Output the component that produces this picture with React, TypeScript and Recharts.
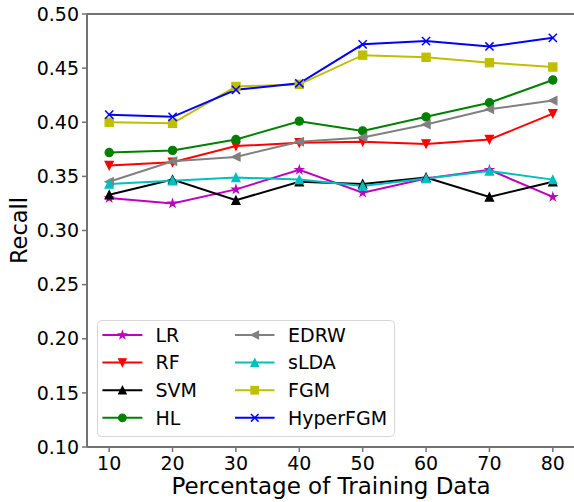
import React from 'react';
import { LineChart, Line, XAxis, YAxis, Legend, ReferenceLine, Label } from 'recharts';

const xValues = [10, 20, 30, 40, 50, 60, 70, 80];
const yTicks = [0.1, 0.15, 0.2, 0.25, 0.3, 0.35, 0.4, 0.45, 0.5];

const LR = [0.330, 0.325, 0.338, 0.356, 0.335, 0.348, 0.356, 0.331];
const RF = [0.360, 0.363, 0.378, 0.381, 0.382, 0.380, 0.384, 0.408];
const SVM = [0.333, 0.347, 0.328, 0.345, 0.343, 0.349, 0.331, 0.345];
const HL = [0.372, 0.374, 0.384, 0.401, 0.392, 0.405, 0.418, 0.439];
const EDRW = [0.345, 0.364, 0.368, 0.382, 0.386, 0.398, 0.412, 0.420];
const sLDA = [0.343, 0.346, 0.349, 0.347, 0.341, 0.348, 0.355, 0.347];
const FGM = [0.400, 0.399, 0.433, 0.435, 0.462, 0.460, 0.455, 0.451];
const HyperFGM = [0.407, 0.405, 0.430, 0.436, 0.472, 0.475, 0.470, 0.478];

type MarkerType = 'star' | 'down' | 'up' | 'circle' | 'left' | 'square' | 'x';

const series: { name: string; values: number[]; color: string; marker: MarkerType }[] = [
  { name: 'LR', values: LR, color: '#bf00bf', marker: 'star' },
  { name: 'RF', values: RF, color: '#ff0000', marker: 'down' },
  { name: 'SVM', values: SVM, color: '#000000', marker: 'up' },
  { name: 'HL', values: HL, color: '#008000', marker: 'circle' },
  { name: 'EDRW', values: EDRW, color: '#808080', marker: 'left' },
  { name: 'sLDA', values: sLDA, color: '#00bfbf', marker: 'up' },
  { name: 'FGM', values: FGM, color: '#bfbf00', marker: 'square' },
  { name: 'HyperFGM', values: HyperFGM, color: '#0000ff', marker: 'x' },
];

const data = xValues.map((x, i) => {
  const row: Record<string, number> = { x };
  series.forEach((s) => {
    row[s.name] = s.values[i];
  });
  return row;
});

const FONT = 'DejaVu Sans, sans-serif';
const AXIS_COLOR = '#737373';

function markerShape(type: MarkerType, cx: number, cy: number, color: string, key?: string, s = 8.2) {
  const h = s / 2;
  const common = { fill: color, stroke: color, strokeWidth: 1.2, strokeLinejoin: 'miter' as const };
  switch (type) {
    case 'circle':
      return <circle key={key} cx={cx} cy={cy} r={h} {...common} />;
    case 'square':
      return <rect key={key} x={cx - h} y={cy - h} width={s} height={s} {...common} />;
    case 'up':
      return <polygon key={key} points={`${cx},${cy - h} ${cx - h},${cy + h} ${cx + h},${cy + h}`} {...common} />;
    case 'down':
      return <polygon key={key} points={`${cx},${cy + h} ${cx - h},${cy - h} ${cx + h},${cy - h}`} {...common} />;
    case 'left':
      return <polygon key={key} points={`${cx - h},${cy} ${cx + h},${cy - h} ${cx + h},${cy + h}`} {...common} />;
    case 'x':
      return (
        <g key={key} stroke={color} strokeWidth={1.5}>
          <line x1={cx - h} y1={cy - h} x2={cx + h} y2={cy + h} />
          <line x1={cx - h} y1={cy + h} x2={cx + h} y2={cy - h} />
        </g>
      );
    case 'star': {
      const pts: string[] = [];
      const R = h;
      const r = h * 0.382;
      for (let k = 0; k < 10; k++) {
        const ang = -Math.PI / 2 + (k * Math.PI) / 5;
        const rad = k % 2 === 0 ? R : r;
        pts.push(`${cx + rad * Math.cos(ang)},${cy + rad * Math.sin(ang)}`);
      }
      return <polygon key={key} points={pts.join(' ')} {...common} />;
    }
  }
  return null;
}

const makeDot = (name: string, type: MarkerType, color: string) => (props: any) => {
  const { cx, cy, index } = props;
  if (cx == null || cy == null) return <g key={`${name}-${index}`} />;
  return markerShape(type, cx, cy, color, `${name}-${index}`);
};

const LegendContent = () => {
  const rowY = [15, 42.6, 70.2, 97.8];
  const cols = [
    { lineX1: 5.4, lineX2: 45.4, text: 58.5 },
    { lineX1: 138, lineX2: 177.5, text: 191 },
  ];
  return (
    <svg width={298} height={117} style={{ display: 'block' }}>
      <rect x={0.5} y={0.5} width={297} height={116} rx={4} ry={4} fill="#ffffff" fillOpacity={0.8} stroke="#d6d6d6" strokeWidth={1} />
      {series.map((s, i) => {
        const col = cols[Math.floor(i / 4)];
        const y = rowY[i % 4];
        const mx = (col.lineX1 + col.lineX2) / 2;
        return (
          <g key={s.name}>
            <line x1={col.lineX1} y1={y} x2={col.lineX2} y2={y} stroke={s.color} strokeWidth={2} />
            {markerShape(s.marker, mx, y, s.color, undefined, 7.6)}
            <text x={col.text} y={y} dy="0.36em" fontSize={19} fontFamily={FONT} fill="#000">
              {s.name}
            </text>
          </g>
        );
      })}
    </svg>
  );
};

const XLabelContent = (props: any) => {
  const vb = props.viewBox || {};
  return (
    <text x={vb.x + vb.width / 2} y={vb.y + 47} textAnchor="middle" fontSize={23} fontFamily={FONT} fill="#000">
      Percentage of Training Data
    </text>
  );
};

const YLabelContent = (props: any) => {
  const vb = props.viewBox || {};
  const x = 27.3;
  const y = vb.y + vb.height / 2;
  return (
    <text x={x} y={y} transform={`rotate(-90 ${x} ${y})`} textAnchor="middle" fontSize={22.5} fontFamily={FONT} fill="#000">
      Recall
    </text>
  );
};

export default function App() {
  return (
    <div style={{ position: 'absolute', left: 0, top: 0, width: 574, height: 502, overflow: 'hidden', background: '#fff' }}>
      <LineChart width={575} height={502} data={data} margin={{ top: 14, right: 0, bottom: 0, left: 0 }} style={{ fontFamily: FONT }}>
        <XAxis
          dataKey="x"
          type="number"
          domain={[6.5, 83.5]}
          ticks={xValues}
          allowDataOverflow
          height={55}
          tickSize={5}
          tickMargin={5}
          axisLine={{ stroke: AXIS_COLOR, strokeWidth: 2 }}
          tickLine={{ stroke: AXIS_COLOR, strokeWidth: 1.5 }}
          tick={{ fill: '#000', fontSize: 19, fontFamily: FONT }}
          interval={0}
        >
          <Label content={XLabelContent} />
        </XAxis>
        <YAxis
          type="number"
          domain={[0.1, 0.5]}
          ticks={yTicks}
          allowDataOverflow
          width={87}
          tickSize={5}
          tickMargin={3}
          axisLine={{ stroke: AXIS_COLOR, strokeWidth: 2 }}
          tickLine={{ stroke: AXIS_COLOR, strokeWidth: 1.5 }}
          tick={{ fill: '#000', fontSize: 19, fontFamily: FONT }}
          tickFormatter={(v: number) => v.toFixed(2)}
          interval={0}
        >
          <Label content={YLabelContent} />
        </YAxis>
        <ReferenceLine y={0.5} stroke={AXIS_COLOR} strokeWidth={2} />
        {series.map((s) => (
          <Line
            key={s.name}
            dataKey={s.name}
            name={s.name}
            stroke={s.color}
            strokeWidth={2}
            type="linear"
            dot={makeDot(s.name, s.marker, s.color)}
            activeDot={false}
            isAnimationActive={false}
          />
        ))}
        <Legend
          verticalAlign="middle"
          align="center"
          content={LegendContent}
          wrapperStyle={{ left: 97, top: 320, width: 298, height: 117, right: 'auto', bottom: 'auto' }}
        />
      </LineChart>
    </div>
  );
}
